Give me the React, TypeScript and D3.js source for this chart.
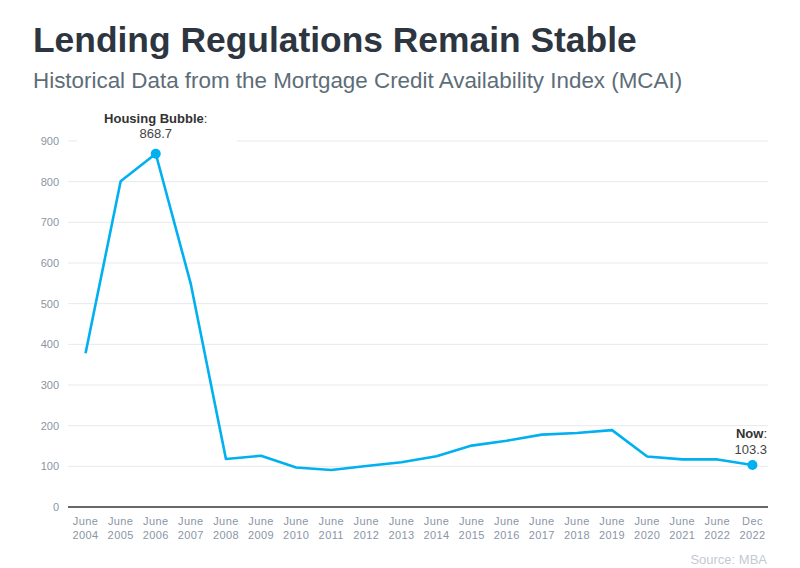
import * as d3 from 'd3';

const categories = [
  'June 2004', 'June 2005', 'June 2006', 'June 2007', 'June 2008', 'June 2009',
  'June 2010', 'June 2011', 'June 2012', 'June 2013', 'June 2014', 'June 2015',
  'June 2016', 'June 2017', 'June 2018', 'June 2019', 'June 2020', 'June 2021',
  'June 2022', 'Dec 2022',
];
const mcai = [
  378, 801, 868.7, 548, 118, 126, 97, 91, 101, 110, 125, 151, 163, 178, 182, 189,
  124, 117, 117, 103.3,
];
const yTicks = [0, 100, 200, 300, 400, 500, 600, 700, 800, 900];

const W = 800;
const H = 568;
const margin = { top: 141, right: 32, bottom: 61, left: 68 };
const LINE = '#00b0f0';

export default function App() {
  const x = d3
    .scalePoint<string>()
    .domain(categories)
    .range([margin.left, W - margin.right + 2])
    .padding(0.5);

  const y = d3
    .scaleLinear()
    .domain([0, 900])
    .range([H - margin.bottom, margin.top]);

  const line = d3
    .line<number>()
    .x((_, i) => x(categories[i])!)
    .y((d) => y(d));

  const peakIdx = 2;
  const nowIdx = mcai.length - 1;
  const px = x(categories[peakIdx])!;
  const py = y(mcai[peakIdx]);
  const nx = x(categories[nowIdx])!;
  const ny = y(mcai[nowIdx]);

  return (
    <svg width={W} height={H} style={{ position: 'absolute', left: 0, top: 0, fontFamily: '"Liberation Sans", Arial, sans-serif' }}>
      <rect width={W} height={H} fill="#fff" />

      <text x={33} y={52} fontSize={35.4} fontWeight="bold" fill="#2d3640">
        Lending Regulations Remain Stable
      </text>
      <text x={33} y={88} fontSize={22.4} fill="#5d6d77">
        Historical Data from the Mortgage Credit Availability Index (MCAI)
      </text>

      {yTicks.map((t) => (
        <g key={t}>
          {t > 0 && (
            <line x1={margin.left} x2={W - margin.right} y1={y(t)} y2={y(t)} stroke="#e6e9ed" strokeWidth={1} />
          )}
          <text x={59} y={y(t)} dy="0.35em" textAnchor="end" fontSize={11} fill="#8a95a6">
            {t}
          </text>
        </g>
      ))}

      <line
        x1={margin.left}
        x2={W - margin.right}
        y1={y(0)}
        y2={y(0)}
        stroke="#33363a"
        strokeWidth={1.5}
      />

      {categories.map((c) => {
        const [m, yr] = c.split(' ');
        return (
          <text key={c} x={x(c)!} textAnchor="middle" fontSize={11} fill="#8a95a6" letterSpacing={0.4}>
            <tspan x={x(c)!} y={525}>{m}</tspan>
            <tspan x={x(c)!} y={539}>{yr}</tspan>
          </text>
        );
      })}

      {/* label background cutting the 900 gridline */}
      <rect x={77} y={108} width={160} height={38} fill="#fff" />

      <path d={line(mcai)!} fill="none" stroke={LINE} strokeWidth={2.6} strokeLinejoin="round" />

      <circle cx={px} cy={py} r={5} fill={LINE} />
      <circle cx={nx} cy={ny} r={5} fill={LINE} />

      <text x={px} y={123} textAnchor="middle" fontSize={13} fill="#333">
        <tspan fontWeight="bold">Housing Bubble</tspan>
        <tspan>:</tspan>
      </text>
      <text x={px} y={138} textAnchor="middle" fontSize={13} fill="#444">
        868.7
      </text>

      <text x={767} y={438} textAnchor="end" fontSize={13} fill="#333">
        <tspan fontWeight="bold">Now</tspan>
        <tspan>:</tspan>
      </text>
      <text x={767} y={454} textAnchor="end" fontSize={13} fill="#444">
        103.3
      </text>

      <text x={767} y={564} textAnchor="end" fontSize={13} fill="#c3cad2">
        Source: MBA
      </text>
    </svg>
  );
}
